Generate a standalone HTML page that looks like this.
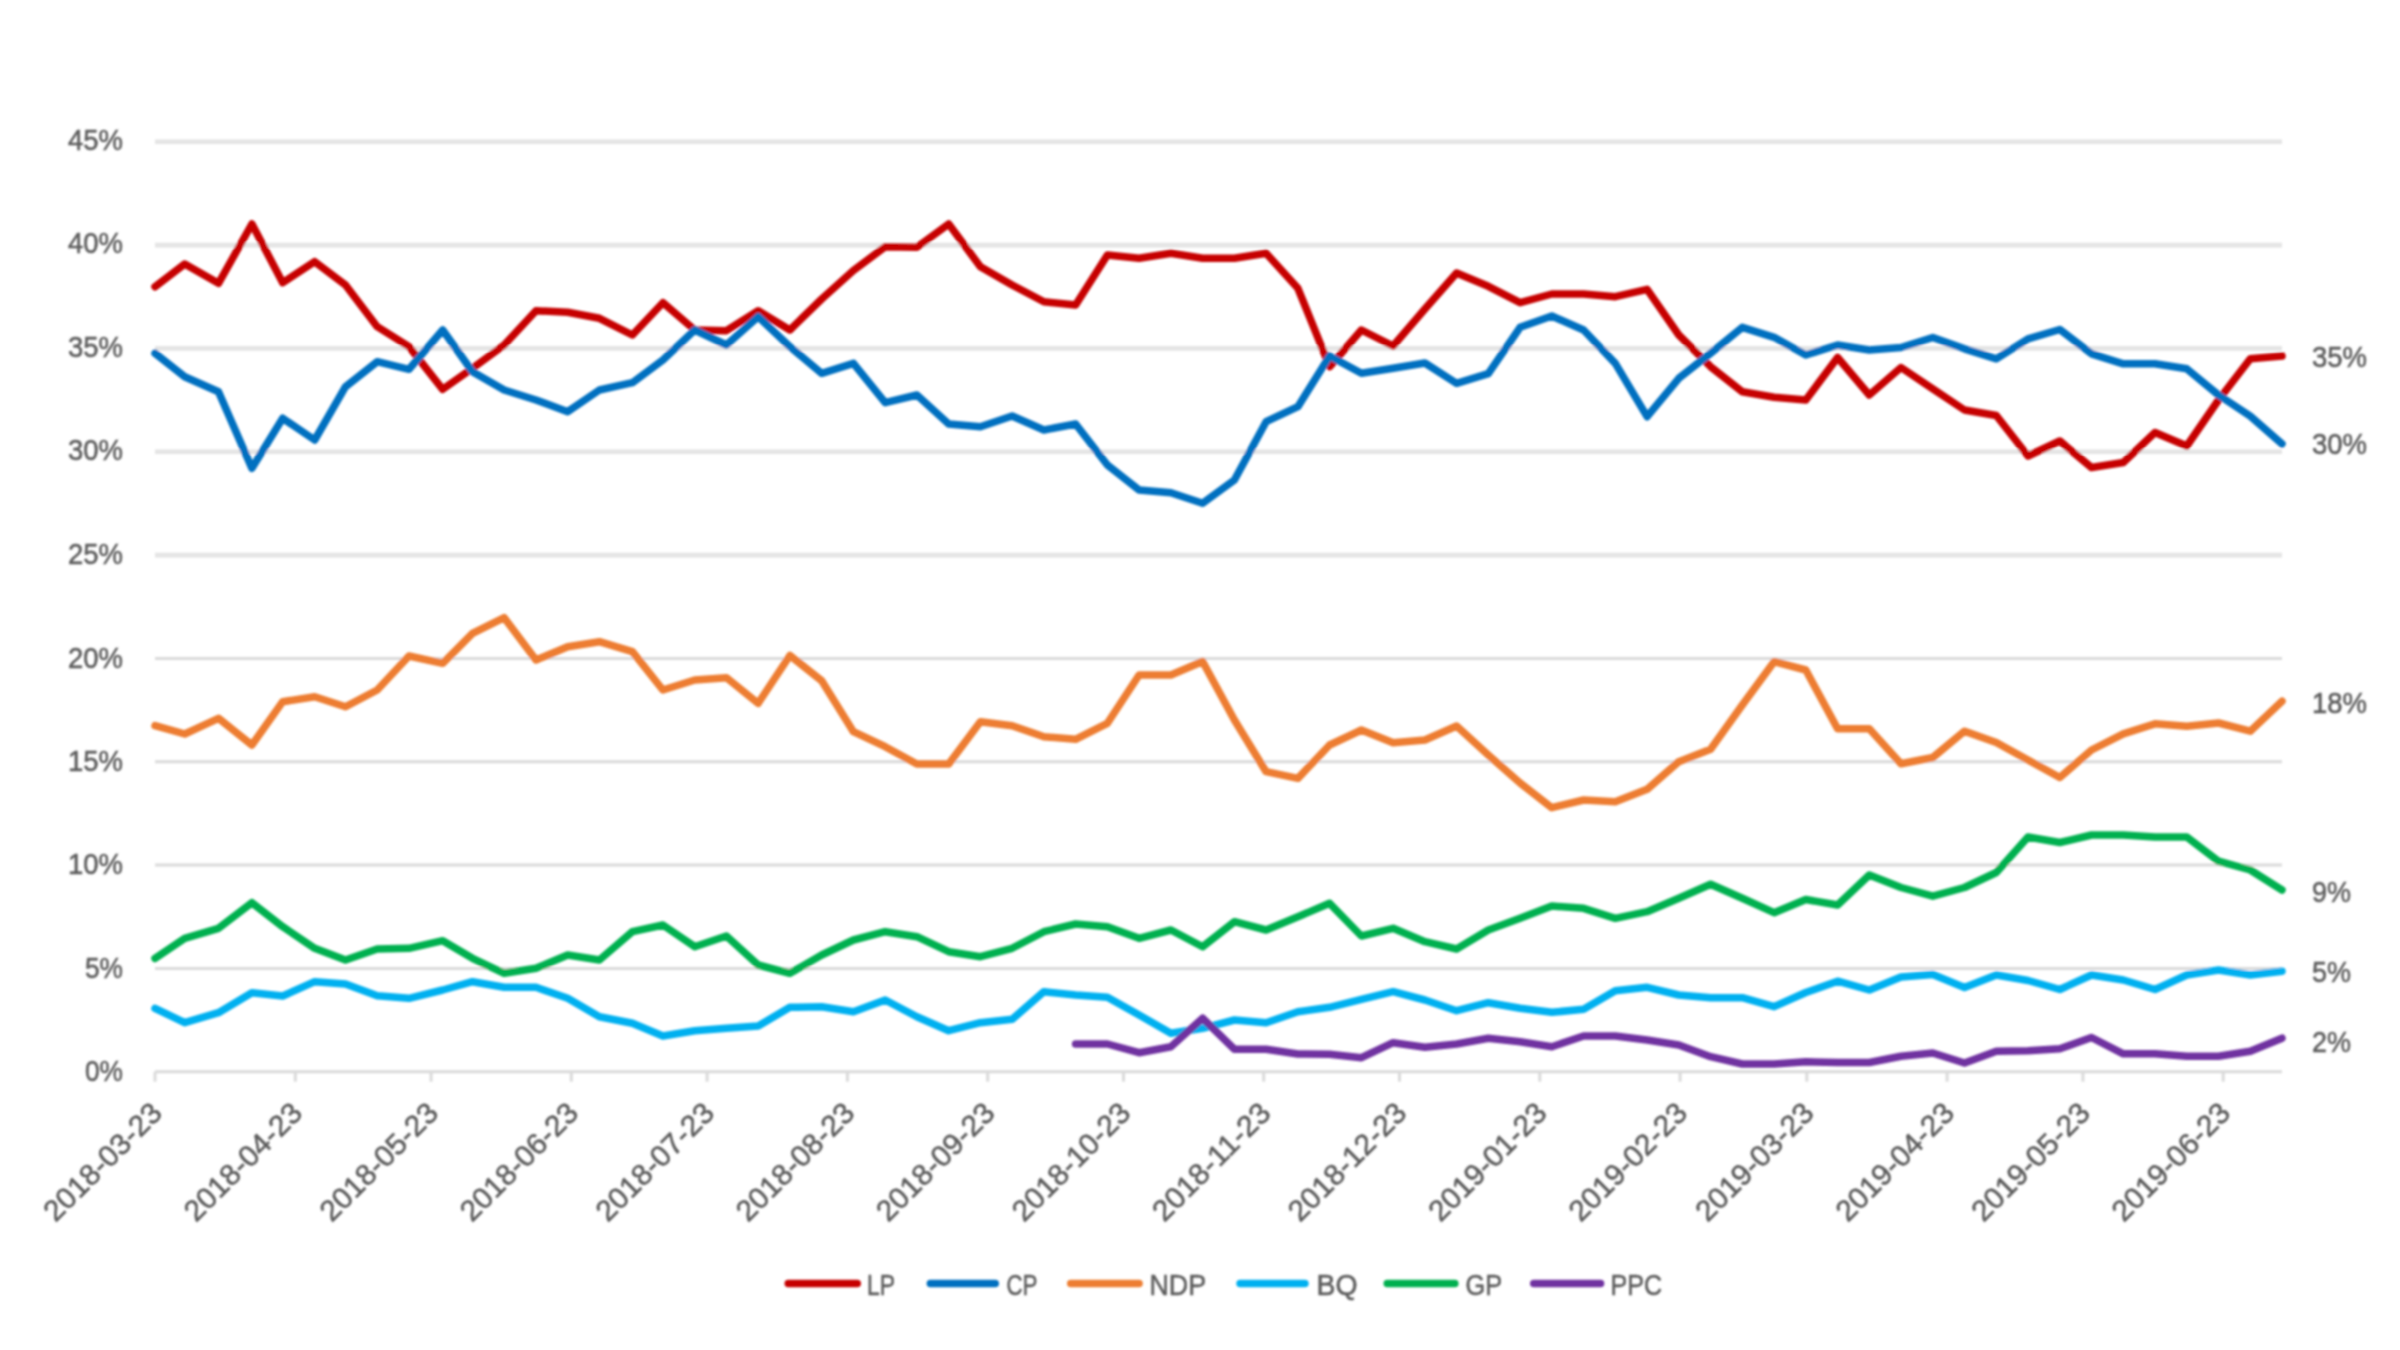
<!DOCTYPE html>
<html lang="en"><head><meta charset="utf-8"><title>Federal vote intention</title>
<style>
html,body{margin:0;padding:0;background:#fff;}
body{width:2400px;height:1350px;overflow:hidden;}
svg{display:block;}
text{font-family:"Liberation Sans",sans-serif;font-size:29.5px;fill:#5c5c5c;stroke:#5c5c5c;stroke-width:0.55;}
.g{stroke:#dadada;stroke-width:3;fill:none;}
.h{stroke:#e4e4e4;stroke-width:4.6;fill:none;}
.s{fill:none;stroke-width:7.5;stroke-linejoin:round;stroke-linecap:round;}
</style></head><body>
<svg width="2400" height="1350" viewBox="0 0 2400 1350">
<rect width="2400" height="1350" fill="#ffffff"/>
<g filter="url(#b)">
<line class="g" x1="155" x2="2282" y1="1071.7" y2="1071.7"/>
<line class="g" x1="155" x2="2282" y1="968.4" y2="968.4"/>
<line class="g" x1="155" x2="2282" y1="865.0" y2="865.0"/>
<line class="g" x1="155" x2="2282" y1="761.7" y2="761.7"/>
<line class="g" x1="155" x2="2282" y1="658.4" y2="658.4"/>
<line class="h" x1="155" x2="2282" y1="555.1" y2="555.1"/>
<line class="h" x1="155" x2="2282" y1="451.7" y2="451.7"/>
<line class="h" x1="155" x2="2282" y1="348.4" y2="348.4"/>
<line class="h" x1="155" x2="2282" y1="245.1" y2="245.1"/>
<line class="h" x1="155" x2="2282" y1="141.7" y2="141.7"/>
<line class="g" x1="155.0" x2="155.0" y1="1071.7" y2="1081.7"/>
<line class="g" x1="295.3" x2="295.3" y1="1071.7" y2="1081.7"/>
<line class="g" x1="431.1" x2="431.1" y1="1071.7" y2="1081.7"/>
<line class="g" x1="571.3" x2="571.3" y1="1071.7" y2="1081.7"/>
<line class="g" x1="707.1" x2="707.1" y1="1071.7" y2="1081.7"/>
<line class="g" x1="847.4" x2="847.4" y1="1071.7" y2="1081.7"/>
<line class="g" x1="987.7" x2="987.7" y1="1071.7" y2="1081.7"/>
<line class="g" x1="1123.5" x2="1123.5" y1="1071.7" y2="1081.7"/>
<line class="g" x1="1263.7" x2="1263.7" y1="1071.7" y2="1081.7"/>
<line class="g" x1="1399.5" x2="1399.5" y1="1071.7" y2="1081.7"/>
<line class="g" x1="1539.8" x2="1539.8" y1="1071.7" y2="1081.7"/>
<line class="g" x1="1680.1" x2="1680.1" y1="1071.7" y2="1081.7"/>
<line class="g" x1="1806.8" x2="1806.8" y1="1071.7" y2="1081.7"/>
<line class="g" x1="1947.1" x2="1947.1" y1="1071.7" y2="1081.7"/>
<line class="g" x1="2082.9" x2="2082.9" y1="1071.7" y2="1081.7"/>
<line class="g" x1="2223.2" x2="2223.2" y1="1071.7" y2="1081.7"/>
<text x="123" y="1080.9" text-anchor="end" textLength="38" lengthAdjust="spacingAndGlyphs">0%</text>
<text x="123" y="977.6" text-anchor="end" textLength="38" lengthAdjust="spacingAndGlyphs">5%</text>
<text x="123" y="874.2" text-anchor="end" textLength="55" lengthAdjust="spacingAndGlyphs">10%</text>
<text x="123" y="770.9" text-anchor="end" textLength="55" lengthAdjust="spacingAndGlyphs">15%</text>
<text x="123" y="667.6" text-anchor="end" textLength="55" lengthAdjust="spacingAndGlyphs">20%</text>
<text x="123" y="564.1" text-anchor="end" textLength="55" lengthAdjust="spacingAndGlyphs">25%</text>
<text x="123" y="460.0" text-anchor="end" textLength="55" lengthAdjust="spacingAndGlyphs">30%</text>
<text x="123" y="356.7" text-anchor="end" textLength="55" lengthAdjust="spacingAndGlyphs">35%</text>
<text x="123" y="253.1" text-anchor="end" textLength="55" lengthAdjust="spacingAndGlyphs">40%</text>
<text x="123" y="149.5" text-anchor="end" textLength="55" lengthAdjust="spacingAndGlyphs">45%</text>
<text transform="translate(163.8,1114.8) rotate(-45)" text-anchor="end" textLength="153" lengthAdjust="spacingAndGlyphs">2018-03-23</text>
<text transform="translate(304.1,1114.8) rotate(-45)" text-anchor="end" textLength="153" lengthAdjust="spacingAndGlyphs">2018-04-23</text>
<text transform="translate(439.9,1114.8) rotate(-45)" text-anchor="end" textLength="153" lengthAdjust="spacingAndGlyphs">2018-05-23</text>
<text transform="translate(580.1,1114.8) rotate(-45)" text-anchor="end" textLength="153" lengthAdjust="spacingAndGlyphs">2018-06-23</text>
<text transform="translate(715.9,1114.8) rotate(-45)" text-anchor="end" textLength="153" lengthAdjust="spacingAndGlyphs">2018-07-23</text>
<text transform="translate(856.2,1114.8) rotate(-45)" text-anchor="end" textLength="153" lengthAdjust="spacingAndGlyphs">2018-08-23</text>
<text transform="translate(996.5,1114.8) rotate(-45)" text-anchor="end" textLength="153" lengthAdjust="spacingAndGlyphs">2018-09-23</text>
<text transform="translate(1132.3,1114.8) rotate(-45)" text-anchor="end" textLength="153" lengthAdjust="spacingAndGlyphs">2018-10-23</text>
<text transform="translate(1272.5,1114.8) rotate(-45)" text-anchor="end" textLength="153" lengthAdjust="spacingAndGlyphs">2018-11-23</text>
<text transform="translate(1408.3,1114.8) rotate(-45)" text-anchor="end" textLength="153" lengthAdjust="spacingAndGlyphs">2018-12-23</text>
<text transform="translate(1548.6,1114.8) rotate(-45)" text-anchor="end" textLength="153" lengthAdjust="spacingAndGlyphs">2019-01-23</text>
<text transform="translate(1688.9,1114.8) rotate(-45)" text-anchor="end" textLength="153" lengthAdjust="spacingAndGlyphs">2019-02-23</text>
<text transform="translate(1815.6,1114.8) rotate(-45)" text-anchor="end" textLength="153" lengthAdjust="spacingAndGlyphs">2019-03-23</text>
<text transform="translate(1955.9,1114.8) rotate(-45)" text-anchor="end" textLength="153" lengthAdjust="spacingAndGlyphs">2019-04-23</text>
<text transform="translate(2091.7,1114.8) rotate(-45)" text-anchor="end" textLength="153" lengthAdjust="spacingAndGlyphs">2019-05-23</text>
<text transform="translate(2232.0,1114.8) rotate(-45)" text-anchor="end" textLength="153" lengthAdjust="spacingAndGlyphs">2019-06-23</text>
<polyline class="s" stroke="#c60000" points="155.0,286.7 184.7,264.0 218.5,283.3 251.9,224.0 282.7,282.7 314.7,261.7 345.5,285.0 377.2,326.7 409.0,346.7 442.7,389.3 472.5,368.3 504.2,345.0 536.0,310.7 567.7,312.3 599.4,318.3 632.4,335.0 662.9,302.7 694.7,330.0 726.4,330.7 758.2,310.7 789.9,330.0 821.7,299.0 853.4,270.5 885.2,246.7 916.9,247.3 948.7,224.0 980.4,266.7 1012.1,285.0 1043.9,301.7 1075.6,305.0 1107.4,255.0 1139.1,258.3 1170.9,253.3 1202.6,258.3 1234.4,258.3 1266.1,253.3 1297.9,288.3 1329.6,366.7 1361.4,330.0 1393.1,346.0 1424.9,309.0 1456.6,273.0 1488.3,286.3 1520.1,302.7 1551.8,294.0 1583.6,294.0 1615.3,296.7 1647.1,289.3 1678.8,335.0 1710.6,366.7 1742.3,391.7 1774.1,397.3 1805.8,400.0 1837.6,357.5 1869.3,395.0 1901.0,367.5 1932.8,388.8 1964.5,410.0 1996.3,415.5 2028.0,456.0 2059.8,441.0 2091.5,467.5 2123.3,462.5 2155.0,432.5 2186.8,446.0 2218.5,400.0 2250.3,358.8 2282.0,356.0"/>
<polyline class="s" stroke="#0070c0" points="155.0,353.3 184.7,376.7 218.5,391.7 251.9,468.3 282.7,418.3 314.7,440.0 345.5,386.7 377.2,361.7 409.0,369.3 442.7,330.0 472.5,371.7 504.2,390.0 536.0,400.0 567.7,411.7 599.4,390.0 632.4,382.7 662.9,360.0 694.7,330.0 726.4,345.0 758.2,316.7 789.9,346.7 821.7,373.3 853.4,363.3 885.2,402.7 916.9,395.0 948.7,424.0 980.4,426.7 1012.1,416.0 1043.9,430.0 1075.6,424.0 1107.4,465.0 1139.1,490.0 1170.9,492.7 1202.6,503.3 1234.4,480.0 1266.1,421.7 1297.9,406.7 1329.6,356.0 1361.4,373.3 1393.1,368.3 1424.9,363.0 1456.6,383.3 1488.3,373.7 1520.1,327.3 1551.8,316.0 1583.6,330.0 1615.3,363.3 1647.1,416.7 1678.8,378.3 1710.6,353.3 1742.3,327.3 1774.1,337.3 1805.8,355.0 1837.6,345.0 1869.3,350.0 1901.0,347.5 1932.8,337.5 1964.5,348.8 1996.3,358.8 2028.0,338.8 2059.8,329.5 2091.5,353.8 2123.3,363.8 2155.0,363.8 2186.8,368.8 2218.5,395.0 2250.3,416.2 2282.0,443.8"/>
<polyline class="s" stroke="#ed7d31" points="155.0,725.7 184.7,734.0 218.5,718.3 251.9,745.0 282.7,701.7 314.7,696.7 345.5,706.7 377.2,690.0 409.0,656.0 442.7,663.3 472.5,633.3 504.2,617.7 536.0,660.0 567.7,646.7 599.4,641.7 632.4,651.7 662.9,690.0 694.7,680.0 726.4,677.7 758.2,703.3 789.9,655.5 821.7,680.7 853.4,731.7 885.2,746.7 916.9,764.0 948.7,764.0 980.4,721.7 1012.1,725.7 1043.9,736.7 1075.6,739.3 1107.4,723.3 1139.1,675.0 1170.9,675.0 1202.6,661.5 1234.4,720.0 1266.1,771.7 1297.9,778.3 1329.6,745.0 1361.4,730.0 1393.1,742.7 1424.9,740.0 1456.6,726.0 1488.3,755.0 1520.1,783.0 1551.8,807.7 1583.6,800.0 1615.3,801.7 1647.1,789.3 1678.8,761.7 1710.6,749.3 1742.3,705.0 1774.1,661.7 1805.8,670.0 1837.6,728.8 1869.3,728.8 1901.0,763.8 1932.8,757.5 1964.5,731.2 1996.3,742.5 2028.0,760.0 2059.8,777.5 2091.5,750.0 2123.3,733.8 2155.0,723.8 2186.8,726.2 2218.5,723.0 2250.3,731.2 2282.0,701.2"/>
<polyline class="s" stroke="#00b0f0" points="155.0,1008.3 184.7,1022.7 218.5,1012.7 251.9,992.7 282.7,996.0 314.7,981.7 345.5,984.0 377.2,995.7 409.0,998.3 442.7,990.0 472.5,981.7 504.2,987.3 536.0,987.3 567.7,998.3 599.4,1016.7 632.4,1023.3 662.9,1036.0 694.7,1030.7 726.4,1028.3 758.2,1026.0 789.9,1007.3 821.7,1006.7 853.4,1011.7 885.2,1000.0 916.9,1016.7 948.7,1030.7 980.4,1022.7 1012.1,1019.3 1043.9,991.7 1075.6,995.0 1107.4,997.3 1139.1,1015.0 1170.9,1033.3 1202.6,1028.3 1234.4,1020.0 1266.1,1022.7 1297.9,1011.7 1329.6,1007.3 1361.4,999.3 1393.1,991.7 1424.9,1000.0 1456.6,1010.7 1488.3,1002.7 1520.1,1008.3 1551.8,1012.3 1583.6,1009.3 1615.3,990.7 1647.1,987.3 1678.8,995.0 1710.6,997.7 1742.3,997.7 1774.1,1006.7 1805.8,992.5 1837.6,981.2 1869.3,990.0 1901.0,977.0 1932.8,974.5 1964.5,987.5 1996.3,975.0 2028.0,980.5 2059.8,989.5 2091.5,975.0 2123.3,980.0 2155.0,989.5 2186.8,975.0 2218.5,970.0 2250.3,975.0 2282.0,971.2"/>
<polyline class="s" stroke="#00b050" points="155.0,958.3 184.7,938.3 218.5,928.3 251.9,902.7 282.7,926.7 314.7,948.3 345.5,960.0 377.2,949.0 409.0,948.3 442.7,940.7 472.5,958.3 504.2,973.3 536.0,968.3 567.7,955.0 599.4,960.0 632.4,931.7 662.9,925.0 694.7,946.7 726.4,936.0 758.2,965.0 789.9,973.3 821.7,955.0 853.4,940.0 885.2,931.7 916.9,936.7 948.7,951.7 980.4,956.7 1012.1,948.3 1043.9,931.7 1075.6,924.0 1107.4,926.7 1139.1,938.3 1170.9,930.0 1202.6,946.7 1234.4,921.7 1266.1,930.0 1297.9,916.7 1329.6,903.3 1361.4,936.0 1393.1,928.3 1424.9,941.7 1456.6,949.0 1488.3,930.0 1520.1,918.3 1551.8,906.0 1583.6,908.3 1615.3,918.3 1647.1,911.7 1678.8,898.3 1710.6,884.3 1742.3,898.3 1774.1,912.7 1805.8,899.5 1837.6,905.0 1869.3,875.0 1901.0,887.5 1932.8,896.2 1964.5,887.5 1996.3,872.5 2028.0,837.0 2059.8,842.5 2091.5,835.0 2123.3,835.0 2155.0,837.0 2186.8,837.0 2218.5,861.2 2250.3,870.0 2282.0,890.0"/>
<polyline class="s" stroke="#7030a0" points="1075.6,1044.0 1107.4,1044.0 1139.1,1052.7 1170.9,1046.7 1202.6,1018.3 1234.4,1049.3 1266.1,1049.3 1297.9,1054.0 1329.6,1054.3 1361.4,1057.7 1393.1,1042.7 1424.9,1047.3 1456.6,1044.0 1488.3,1038.3 1520.1,1041.7 1551.8,1046.7 1583.6,1036.0 1615.3,1036.0 1647.1,1040.0 1678.8,1045.0 1710.6,1056.7 1742.3,1064.0 1774.1,1064.0 1805.8,1061.7 1837.6,1062.5 1869.3,1062.5 1901.0,1056.2 1932.8,1053.0 1964.5,1063.0 1996.3,1051.2 2028.0,1050.8 2059.8,1048.8 2091.5,1037.5 2123.3,1053.8 2155.0,1053.8 2186.8,1056.2 2218.5,1056.2 2250.3,1051.2 2282.0,1038.2"/>
<text x="2312" y="367.0" textLength="55" lengthAdjust="spacingAndGlyphs">35%</text>
<text x="2312" y="454.2" textLength="55" lengthAdjust="spacingAndGlyphs">30%</text>
<text x="2312" y="713.2" textLength="55" lengthAdjust="spacingAndGlyphs">18%</text>
<text x="2312" y="901.5" textLength="39" lengthAdjust="spacingAndGlyphs">9%</text>
<text x="2312" y="982.1" textLength="39" lengthAdjust="spacingAndGlyphs">5%</text>
<text x="2312" y="1051.8" textLength="39" lengthAdjust="spacingAndGlyphs">2%</text>
<line class="s" stroke="#c60000" x1="788.25" x2="857.25" y1="1283.5" y2="1283.5"/>
<text x="867" y="1294.5" textLength="28" lengthAdjust="spacingAndGlyphs">LP</text>
<line class="s" stroke="#0070c0" x1="930.35" x2="995.25" y1="1283.5" y2="1283.5"/>
<text x="1006.5" y="1294.5" textLength="31" lengthAdjust="spacingAndGlyphs">CP</text>
<line class="s" stroke="#ed7d31" x1="1070.75" x2="1139.05" y1="1283.5" y2="1283.5"/>
<text x="1149.5" y="1294.5" textLength="56.5" lengthAdjust="spacingAndGlyphs">NDP</text>
<line class="s" stroke="#00b0f0" x1="1240.05" x2="1304.95" y1="1283.5" y2="1283.5"/>
<text x="1316.5" y="1294.5" textLength="41" lengthAdjust="spacingAndGlyphs">BQ</text>
<line class="s" stroke="#00b050" x1="1387.25" x2="1454.85" y1="1283.5" y2="1283.5"/>
<text x="1465.5" y="1294.5" textLength="36.5" lengthAdjust="spacingAndGlyphs">GP</text>
<line class="s" stroke="#7030a0" x1="1533.75" x2="1600.55" y1="1283.5" y2="1283.5"/>
<text x="1610.5" y="1294.5" textLength="51.5" lengthAdjust="spacingAndGlyphs">PPC</text>
</g>
<defs><filter id="b" x="0" y="0" width="2400" height="1350" filterUnits="userSpaceOnUse"><feGaussianBlur stdDeviation="1.0"/></filter></defs>
</svg></body></html>
